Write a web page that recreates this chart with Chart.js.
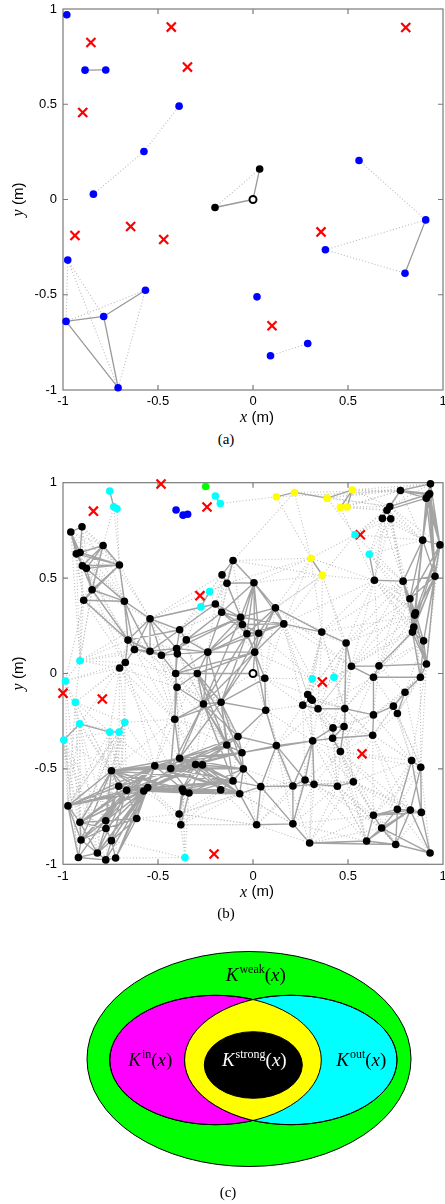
<!DOCTYPE html>
<html><head><meta charset="utf-8">
<script src="https://cdn.jsdelivr.net/npm/chart.js@4.4.1/dist/chart.umd.min.js"></script>
<style>
html,body{margin:0;padding:0;background:#fff;width:445px;height:1204px;overflow:hidden;position:relative}
canvas{position:absolute;left:0}
.lab{position:absolute;font-family:"Liberation Serif",serif;font-size:15px;color:#000;transform:translate(-50%,-50%);white-space:nowrap}
</style></head><body>
<canvas id="ca" width="445" height="430" style="top:0;width:445px;height:430px"></canvas>
<canvas id="cb" width="445" height="440" style="top:470px;width:445px;height:440px"></canvas>
<canvas id="cc" width="445" height="274" style="top:930px;width:445px;height:274px"></canvas>
<div class="lab" style="left:226px;top:439px">(a)</div>
<div class="lab" style="left:226px;top:913px">(b)</div>
<div class="lab" style="left:228px;top:1192px">(c)</div>
<script>
// ---------- Panel (a) data ----------
const aBlue = [[-0.98,0.97],[-0.884,0.679],[-0.775,0.68],[-0.389,0.49],[-0.574,0.252],[-0.84,0.028],[0.558,0.205],
  [0.909,-0.107],[0.381,-0.264],[0.8,-0.387],[-0.975,-0.318],[-0.566,-0.476],[-0.786,-0.614],[-0.984,-0.64],
  [-0.71,-0.988],[0.021,-0.511],[0.092,-0.82],[0.288,-0.756]];
const aBlack = [[0.035,0.16],[-0.2,-0.042]];
const aTarget = [[0,0]];
const aRed = [[-0.853,0.824],[-0.43,0.905],[-0.345,0.695],[-0.896,0.457],[0.804,0.903],[-0.937,-0.189],
  [-0.644,-0.142],[-0.47,-0.21],[0.358,-0.17],[0.1,-0.663]];
const aSolid = "b1-b2 t-k1 t-k0 b7-b9 b13-b12 b12-b11 b12-b14 b13-b14".split(/\s+/);
const aDotted = "b5-b4 b4-b3 k1-k0 b6-b7 b8-b7 b8-b9 b16-b17 b10-b13 b10-b12 b10-b14 b13-b11 b11-b14".split(/\s+/);
const axisTicks = [-1, -0.5, 0, 0.5, 1];

// ---------- Panel (b) data ----------
const bBlack = [
[-0.959,0.742],[-0.900,0.769],[-0.789,0.671],[-0.930,0.627],[-0.910,0.634],[-0.898,0.565],[-0.877,0.551],[-0.703,0.569],[-0.847,0.439],[-0.891,0.384],
[-0.677,0.379],[-0.105,0.592],[-0.163,0.517],[-0.137,0.473],[0.005,0.476],[-0.198,0.364],[-0.165,0.321],[-0.065,0.295],[-0.056,0.257],[-0.032,0.208],
[0.030,0.211],[0.009,0.112],[0.118,0.344],[0.162,0.260],[-0.542,0.287],[-0.386,0.229],[-0.351,0.176],[-0.658,0.175],[-0.624,0.126],[-0.542,0.117],
[-0.482,0.096],[-0.402,0.131],[-0.398,0.103],[-0.238,0.112],[-0.672,0.058],[-0.702,0.029],[-0.407,0.000],[-0.293,0.000],[-0.400,-0.072],[-0.261,-0.160],
[-0.168,-0.151],[-0.412,-0.240],[0.067,-0.193],[0.062,-0.025],[0.362,0.217],[0.490,0.160],[0.518,0.038],[0.663,0.040],[0.913,0.050],[0.634,-0.020],
[0.881,-0.020],[0.800,-0.098],[0.739,-0.171],[0.760,-0.210],[0.634,-0.217],[0.630,-0.324],[0.934,0.994],[0.776,0.959],[0.930,0.942],[0.912,0.919],
[0.923,0.935],[0.720,0.875],[0.705,0.856],[0.681,0.813],[0.725,0.811],[0.893,0.699],[0.984,0.674],[0.639,0.489],[0.790,0.484],[0.958,0.510],
[0.826,0.392],[0.851,0.306],[0.855,0.318],[0.846,0.243],[0.839,0.217],[0.898,0.171],[0.288,-0.110],[0.304,-0.132],[0.312,-0.140],[0.262,-0.166],
[0.342,-0.185],[0.483,-0.184],[0.421,-0.285],[0.479,-0.278],[0.419,-0.339],[0.314,-0.353],[0.460,-0.409],[0.123,-0.378],[-0.079,-0.330],[-0.138,-0.375],
[-0.058,-0.415],[-0.051,-0.500],[-0.105,-0.563],[-0.070,-0.630],[-0.170,-0.610],[0.041,-0.593],[-0.386,-0.444],[-0.433,-0.498],[-0.517,-0.484],[-0.302,-0.477],
[-0.266,-0.479],[-0.372,-0.605],[-0.366,-0.619],[-0.337,-0.626],[-0.745,-0.510],[-0.707,-0.591],[-0.665,-0.612],[-0.575,-0.616],[-0.554,-0.598],[-0.974,-0.694],
[-0.911,-0.780],[-0.905,-0.873],[-0.919,-0.964],[-0.819,-0.941],[-0.775,-0.772],[-0.774,-0.812],[-0.745,-0.876],[-0.775,-0.977],[-0.723,-0.967],[-0.612,-0.760],
[-0.389,-0.736],[-0.380,-0.793],[0.019,-0.793],[0.210,-0.590],[0.210,-0.788],[0.274,-0.558],[0.321,-0.581],[0.444,-0.591],[0.528,-0.568],[0.298,-0.888],
[0.598,-0.878],[0.751,-0.896],[0.932,-0.941],[0.634,-0.743],[0.677,-0.810],[0.760,-0.712],[0.828,-0.716],[0.886,-0.728],[0.835,-0.456],[0.883,-0.491]
];
const bCyan = [[-0.754,0.956],[-0.733,0.874],[-0.716,0.863],[-0.198,0.93],[-0.172,0.891],[-0.228,0.429],[-0.274,0.349],
  [0.537,0.727],[0.612,0.625],[-0.911,0.067],[-0.987,-0.039],[-0.935,-0.151],[-0.912,-0.264],[-0.675,-0.256],
  [-0.754,-0.307],[-0.705,-0.307],[-0.996,-0.349],[0.312,-0.028],[0.426,-0.02],[-0.358,-0.965]];
const bYellow = [[0.123,0.926],[0.218,0.949],[0.39,0.919],[0.46,0.87],[0.495,0.873],[0.523,0.962],[0.305,0.604],[0.365,0.515]];
const bBlue = [[-0.405,0.857],[-0.368,0.83],[-0.344,0.835]];
const bGreen = [[-0.249,0.98]];
const bTarget = [[0,0]];
const bRed = [[-0.484,0.993],[-0.84,0.851],[-0.242,0.873],[0.565,0.727],[-0.279,0.408],[-1.0,-0.103],
  [-0.793,-0.134],[0.365,-0.045],[0.574,-0.421],[-0.205,-0.946]];

const bSolid = `
k0-k1 k0-k3 k0-k4 k0-k5 k1-k4 k2-k3 k2-k4 k2-k5 k2-k6 k2-k7 k3-k7 k4-k7 k5-k7 k6-k7 k3-k5 k5-k8 k6-k8 k7-k8 k7-k9 k7-k10 k8-k9 k9-k10 k8-k10 k6-k10 k2-k8
k10-k24 k10-k27 k10-k28 k10-k29 k8-k27 k9-k27
k24-k25 k24-k27 k24-k28 k24-k29 k24-k30 k24-k31 k25-k26 k25-k31 k25-k29 k25-k27 k26-k31 k26-k32 k26-k33 k27-k28 k27-k29 k27-k30 k28-k29 k28-k30 k29-k30 k29-k31
k30-k31 k30-k32 k31-k32 k31-k33 k32-k33 k27-k34 k28-k34 k34-k35 k30-k36 k31-k36 k32-k36 k32-k37 k33-k37 k33-k36 k36-k37 k36-k38 k37-k38 k33-k39 k33-k40 k37-k39
k37-k40 k38-k39 k38-k41 k36-k41 k39-k40 k39-k41 k40-k41
k33-k16 k33-k17 k33-k19 k33-k21 k26-k16 k25-k15 k24-k15 k26-k17 k31-k17 k33-k18 k33-k20 k37-k21 k39-k19 k40-k19 k40-k20 k39-k17 k36-k21
k11-k12 k11-k13 k11-k14 k12-k13 k13-k14 k14-k17 k14-k18 k14-k19 k14-k20 k14-k21 k14-k22 k14-k23 k15-k16 k16-k17 k16-k18 k17-k18 k17-k19 k18-k19 k18-k20 k19-k20
k19-k21 k20-k21 k17-k22 k18-k23 k20-k23 k22-k23 k21-k23 k17-k23 k19-k23 k20-k22 k21-k43 k23-k44 k44-k45 k45-k46 k21-t k43-t k37-t k16-k19 k15-k17
k22-k44 k14-k16 k13-k17 k22-k21 k22-k19 k18-k21 k17-k21 k16-k20
k21-k40 k40-k42 k42-k43 k40-k88 k39-k88 k39-k89 k40-k89 k88-k89 k88-k90 k89-k90 k90-k91 k89-k91 k91-k92 k92-k93 k92-k94 k93-k94 k91-k95 k93-k95 k88-k87 k87-k42
k87-k95 k87-k85 k90-k87 k95-k122 k95-k123 k122-k124 k124-k123 k43-k40 k42-k88 k21-k39 k21-k42 k40-k91 k40-k92 k39-k91 k39-k92 k37-k89 k37-k90 k90-k85
k96-k99 k96-k100 k97-k99 k98-k99 k98-k100 k99-k100 k96-k97 k97-k98 k99-k101 k100-k101 k101-k102 k102-k103 k100-k103 k103-k94 k100-k94 k100-k92 k99-k91 k100-k91
k99-k90 k100-k89 k96-k89 k96-k88 k100-k88 k98-k104 k97-k104 k96-k104 k104-k105 k104-k106 k105-k106 k106-k107 k107-k108 k108-k98 k107-k98 k106-k98 k108-k97
k107-k101 k108-k101 k108-k103 k106-k103 k105-k103 k104-k109 k105-k109 k106-k109 k104-k110 k109-k110 k109-k111 k109-k112 k110-k111 k110-k114 k110-k115 k111-k115
k111-k112 k112-k113 k113-k117 k113-k116 k116-k117 k116-k118 k117-k118 k114-k115 k115-k116 k114-k119 k115-k119 k116-k119 k119-k106 k119-k107 k119-k108 k105-k114
k106-k114 k114-k104 k118-k119 k120-k121 k101-k120 k102-k120 k103-k121 k41-k96 k41-k97 k93-k103 k92-k103 k91-k93 k98-k92 k97-k93 k96-k94 k105-k115 k106-k116
k107-k116 k104-k111 k98-k101 k97-k103 k111-k113 k112-k117 k110-k113 k105-k113 k106-k117 k107-k118 k92-k95
k104-k99 k104-k100 k105-k99 k106-k99 k107-k99 k108-k99 k107-k100 k108-k100 k105-k101 k106-k101 k104-k101 k104-k103 k105-k98 k104-k107 k104-k108 k109-k107
k109-k108 k110-k106 k110-k107 k110-k108 k111-k106 k111-k107 k111-k108 k112-k106 k113-k107 k113-k108 k114-k107 k114-k108 k115-k107 k115-k108 k116-k108
k117-k108 k118-k107 k118-k108 k113-k106 k109-k98 k110-k98 k111-k98 k114-k98 k104-k92 k98-k93 k98-k91 k97-k92 k97-k91 k96-k93 k96-k91 k107-k92 k108-k92
k107-k93 k108-k93 k106-k92 k105-k93 k99-k93 k99-k94 k99-k92 k101-k92 k101-k93 k101-k94 k103-k92 k103-k91 k100-k93 k102-k94 k102-k93 k97-k89 k98-k89 k97-k88
k96-k90 k97-k90 k98-k90 k99-k89 k39-k96 k39-k97 k40-k96
k87-k123 k87-k125 k85-k84 k85-k126 k85-k125 k85-k123 k84-k82 k82-k83 k83-k81 k80-k81 k80-k79 k76-k77 k77-k78 k78-k80 k79-k77 k81-k45 k46-k47 k47-k49 k46-k49
k49-k50 k47-k48 k48-k50 k50-k51 k51-k52 k52-k53 k49-k54 k54-k55 k54-k52 k84-k86 k83-k86 k84-k83 k85-k82 k81-k54 k51-k53 k84-k55
k126-k127 k127-k128 k125-k126 k123-k125 k123-k126 k124-k129 k129-k130 k130-k131 k130-k134 k130-k133 k131-k134 k131-k135 k131-k136 k131-k132 k132-k137 k132-k136
k132-k134 k133-k134 k133-k135 k133-k136 k133-k137 k134-k135 k134-k136 k135-k136 k136-k137 k135-k138 k136-k139 k137-k139 k137-k138 k138-k139 k122-k124 k124-k125
k129-k131 k130-k136 k95-k124 k122-k93
k56-k57 k56-k58 k56-k59 k56-k60 k57-k58 k57-k59 k57-k60 k58-k59 k59-k60 k61-k57 k62-k57 k61-k58 k62-k59 k61-k62 k63-k64 k62-k63 k62-k64 k56-k65 k56-k66 k58-k65
k59-k65 k60-k66 k58-k66 k65-k66 k65-k68 k65-k69 k66-k69 k68-k69 k67-k68 k68-k70 k69-k70 k68-k71 k69-k71 k69-k72 k70-k71 k70-k72 k70-k73 k71-k72 k71-k73 k72-k74
k73-k74 k73-k75 k74-k75 k72-k75 k75-k48 k74-k48 k74-k47 k74-k50 k75-k50 k66-k70 k66-k75 k69-k75 k65-k70 k65-k73 k71-k74 k73-k48 k70-k74 k71-k48 k56-k69 k59-k66
k68-k73 k60-k65 k59-k69 k58-k69 k60-k69 k65-k72 k65-k74 k66-k72 k66-k73 k69-k73 k69-k74 k66-k71 k68-k72 k65-k71 k69-k48
c0-c1 c1-c2 c3-c4 c5-c6 c12-c14 c16-c12 c14-c15 c15-c13 y0-y1 y1-y2 y2-y5 y3-y5 y4-y5 y6-y7 c8-k67
`.trim().split(/\s+/);

const bDotted = `
k3-c9 k5-c9 k9-c9 k8-c9 k9-c10 k8-k28 k9-k28 k9-k34 k8-k34 k5-k10 k3-k9 k0-k8 k1-k7 k1-k2 k1-k5 k0-k2 c2-k7 c1-k2 c1-k7 c4-y0 y2-k57 y5-k57 y4-k61 y3-k62
y1-k57 y5-k56 y0-k57 y1-y6 y0-y6 y6-k22 y7-k22 y7-k23 y7-k67 y6-c7 y7-c7 c7-k63 c8-k64 c8-k68 c7-k65 y2-c7 y3-k67 c7-k61 c5-k13 c6-k25 c6-k26 c5-k15 c6-k24 c5-k12
k63-k67 k64-k68 k61-k65 k62-k67 k63-k68 k57-k65 k61-k66 k64-k70 k67-k73 k67-k71 k68-k74 k70-k48 k71-k50 k73-k50 k67-k45 k67-k44 k68-k45 k67-k46 k68-k47 k70-k47
k71-k46 k72-k47 k44-k76 k44-k79 k23-k45 k46-k76 k46-k80 k45-k76 k47-k81 k49-k81 k49-k80 k54-k81 k55-k83 k55-k81 k55-k86 k53-k55 k52-k54 k50-k53 k51-k139
k53-k138 k55-k138 k54-k138 k53-k139 k50-k139 k48-k139 k48-k138 c17-k43 c17-k76 c17-k44 c18-k46 c18-k45 c18-k81 c17-k23 c17-k79 k86-k128 k86-k127 k128-k133
k128-k135 k86-k133 k127-k130 k126-k130 k85-k124 k129-k133 k124-k130 k126-k129 k127-k133 k128-k134 k128-k138 k86-k138 k55-k135 k86-k139 k122-k121 k121-k93 k120-k94
c19-k121 c19-k120 c19-k116 c19-k118 k121-k122 k120-k122 k129-k122 k95-k129 k93-k124 c12-k109 c16-k109 c14-k104 c15-k104 c13-k98 c13-k41 c15-k105 c16-k110 c11-k109
c16-k111 c16-k112 c12-k114 c12-k113 c14-k115 c15-k114 c13-k105 c13-k104 c10-k109 c11-k110 c9-k34 c9-k35 c10-k35 c11-k35 k35-k41 k35-k38 k28-k38 k27-k36 k34-k36
k34-k41 k41-k104 k41-k98 k38-k98 k38-k96 c13-k35 k11-k15 k11-k16 k12-k15 k12-k16 k13-k16 k11-k22 k16-k25 k15-k24 k15-k25 k13-k24 k12-k24 k20-k43 k19-k43
k42-k90 k43-k87 k42-k85 k42-k79 k43-k79 k43-k76 k87-k79 k87-k80 k87-k84 k42-k123 k37-k88 k36-k89 k38-k89 k41-k89 k39-k99 k40-k99 k40-k90 k89-k99 k88-k92
k91-k99 c9-k27 k2-k10 k0-c9 c10-c9 c12-k104 c11-c12 k119-k120 k119-k121 k108-k120 k113-k118 k91-k123 k23-k46 k22-k45 k14-y6 k11-y6 k11-y1 k44-c18 c17-k77 k44-k80
k45-k81 t-k39 t-k42 t-k20 k44-k81 k45-k80 c8-k65 k57-k63 k56-k61 k64-k67 k62-k68 k69-k48 k66-k48 k65-k71 k24-c9 k27-k35 c10-k34 c11-k104 c12-k105 c16-k114
k98-c14 k104-c11 k112-c16 k113-c14 k117-c15 k118-c13 k120-k107 k121-k108 k93-k120 k94-k121 k122-k120 c19-k103 c19-k102 k129-k95 k124-k93 k131-k86 k132-k139
k137-k128 k130-k127 k126-k133 k85-k129 k87-k124 k79-k85 k76-k84 k78-k82 k77-k85 k80-k82 k81-k84 k46-k81 k47-k54 k49-k52 k47-k51 k48-k51 k50-k52 k75-k51 k74-k49
k0-k10 k1-k10 k3-k10 k4-k10 k0-k7 k3-k8 k4-k9 k1-k8 k2-k9 k2-k24 k7-k24 k7-k27 k8-k24 k9-k29 k6-k27 k5-k27 k0-k9
c9-k28 c9-k29 c9-k8 c10-k34 c11-k34 c12-k35 c13-k34 c14-k35 c15-k35 c10-c11 c10-c12 c11-c14 c12-c15 c16-c14 c9-c11 c11-c13 c16-k104 c14-k109 c15-k110 c13-k110
c12-k110 c16-k113 c12-k111 c14-k111 c15-k115 c13-k114 c13-k106 c14-k106 c14-k114 c15-k106 c11-k111 c10-k110 c16-k117 c14-k105 c15-k109 c13-k109
k35-k96 k35-k97 k34-k98 k28-k41 k29-k41 k30-k41 k29-k38 k30-k38 k24-k36 k25-k37 k26-k37 k26-k39 k31-k39 k32-k39 k25-k33 k24-k26 k27-k31 k36-k40 k38-k40
k41-k88 k41-k99 k41-k100 k38-k99 k38-k97 k36-k96 k37-k41 k36-k39 k39-k90
k22-k43 k23-k43 k11-k17 k12-k17 k13-k18 k13-k15 k16-k21 k15-k19 k15-k33 k16-k31 k16-k26 k12-k25 k22-k76 k23-k76 k23-c17 k20-c17 k21-c17
k76-k81 k77-k81 k78-k81 k79-k82 k76-k85 k78-k83 k80-k83 k80-k84 k80-k85 k81-k86 k82-k86 k85-k86 k76-k45 k77-k46 k80-k46 k81-k55 k82-k55 k83-k54 k86-k54 k82-k54
k123-k127 k123-k128 k125-k127 k125-k128 k126-k128 k85-k127 k85-k128 k84-k127 k84-k128 k86-k126 k86-k125 k127-k129 k128-k129 k128-k130 k127-k134 k126-k134
k129-k134 k127-k131 k128-k131 k86-k135 k86-k136 k55-k136 k55-k133 k128-k136 k128-k137 k138-k133 k139-k133 k138-k134 k139-k135 k131-k137 k132-k135 k124-k133
k124-k126 k124-k127 k122-k123 k122-k125 k95-k125 k95-k126 k93-k123 k91-k122 k92-k122 k94-k122 k123-k85
k120-k93 k121-k101 k120-k99 c19-k101
y2-k56 y3-k57 y4-k57 y5-k58 y5-k61 y4-k62 y2-k61 y1-k61 c7-k62 c7-k64 c8-k63 c8-k70 c8-k71 c7-k68 k63-k65 k64-k65 k61-k68 k62-k65 k67-k70 k67-k72 k67-k74
k70-k75 k67-k47 k68-k46 k70-k46 k71-k45 y7-k44 y7-k45 y6-k23
k73-k49 k75-k47 k48-k52 k48-k53 k50-k54 k51-k54 k51-k55 k52-k55 k52-k138 k52-k139 k55-k139
k87-k129 k87-k122 k85-k130 k84-k130 k82-k127 k83-k128 k81-k128 k86-k130 k80-k127 k79-k125 k77-k126 k55-k128 k49-k86 k46-k82 k46-k83 k45-k82 k44-k77
k23-k79 k22-k46 k22-y7 k14-y7 k11-y7 k13-y6 y6-k67 y6-k44 y7-k46 k67-k23 k68-k44 k70-k45 k71-k44 k73-k46 k74-k46 k75-k49
`.trim().split(/\s+/);

// ---------- Panel (c) data ----------
const vennNames  = ['weak','in','out','strong'];
const vennColors = ['#00ff00','#ff00ff','#00ffff','#000000'];
const vennCX = [0, -33.5, 41.8, 4.3];
const vennCY = [0, -1, -1, -6];
const vennRX = [162, 105.8, 106.2, 49];
const vennRY = [107.5, 64.7, 64.7, 33.3];
const vennLabelX = [6.8, -98.7, 112.3, 5.3];
const vennLabelY = [84, -1, -1, -1];
const vennLabelColor = ['#000','#000','#000','#fff'];

// ---------- helpers ----------
function nodeMap(groups){
  const m = {};
  for (const [pre, arr] of Object.entries(groups)) arr.forEach((p,i)=>{ m[pre==='t'?'t':pre+i] = p; });
  return m;
}
function edgeData(list, nodes){
  const out = [];
  list.forEach(e=>{
    const [a,b] = e.split('-'); const p = nodes[a], q = nodes[b];
    if(!p||!q) return;
    out.push({x:p[0],y:p[1]},{x:q[0],y:q[1]},{x:q[0],y:null});
  });
  return out;
}
const toXY = arr => arr.map(p=>({x:p[0],y:p[1]}));
function pointSet(arr, color, r, style, extra){
  return Object.assign({type:'scatter', data:toXY(arr), showLine:false, pointStyle:style||'circle',
    pointRadius:r, pointBackgroundColor:color, pointBorderColor:color, pointBorderWidth:0, order:0, clip:12}, extra||{});
}
function lineSet(data, color, w, dash, order){
  return {type:'scatter', data, showLine:true, pointRadius:0, borderColor:color, borderWidth:w,
    borderDash:dash||[], spanGaps:false, order, clip:0, fill:false};
}

const framePlugin = {
  id:'frame',
  beforeDatasetsDraw(chart){
    const {ctx, chartArea:a, scales:{x,y}} = chart;
    ctx.save();
    ctx.strokeStyle = '#7a7a7a'; ctx.lineWidth = 1.2;
    ctx.strokeRect(a.left, a.top, a.right-a.left, a.bottom-a.top);
    const L = 5;
    ctx.beginPath();
    x.ticks.forEach(t=>{ if(t.value<=-1||t.value>=1) return; const px = x.getPixelForValue(t.value);
      ctx.moveTo(px,a.bottom); ctx.lineTo(px,a.bottom-L); ctx.moveTo(px,a.top); ctx.lineTo(px,a.top+L); });
    y.ticks.forEach(t=>{ if(t.value<=-1||t.value>=1) return; const py = y.getPixelForValue(t.value);
      ctx.moveTo(a.left,py); ctx.lineTo(a.left+L,py); ctx.moveTo(a.right,py); ctx.lineTo(a.right-L,py); });
    ctx.stroke();
    ctx.restore();
  },
  afterDraw(chart){
    const {ctx, chartArea:a} = chart;
    function title(letter, cx, cy, rot){
      ctx.save(); ctx.translate(cx,cy); if(rot) ctx.rotate(-Math.PI/2);
      const f1 = 'italic 16px "Liberation Serif"', f2 = '15px "Liberation Sans"';
      ctx.font = f1; const w1 = ctx.measureText(letter).width;
      ctx.font = f2; const w2 = ctx.measureText(' (m)').width;
      let x0 = -(w1+w2)/2;
      ctx.textBaseline = 'middle'; ctx.fillStyle = '#000';
      ctx.font = f1; ctx.fillText(letter, x0, 0);
      ctx.font = f2; ctx.fillText(' (m)', x0+w1, 0);
      ctx.restore();
    }
    title('x', (a.left+a.right)/2+4, a.bottom+28, false);
    title('y', 19, (a.top+a.bottom)/2, true);
  }
};

function netOptions(padTop, xAxisH){
  const tickFont = {family:'"Liberation Sans", Arial, sans-serif', size:13};
  const grid = {display:false, drawTicks:false, tickLength:0};
  return {
    responsive:false, animation:false, devicePixelRatio:1, events:[],
    layout:{autoPadding:false, padding:{top:padTop,right:2,left:0,bottom:0}},
    plugins:{legend:{display:false}, tooltip:{enabled:false}},
    scales:{
      x:{type:'linear', min:-1, max:1, grid, border:{display:false},
        afterBuildTicks:s=>{ s.ticks = axisTicks.map(v=>({value:v})); },
        ticks:{padding:4, color:'#000', font:tickFont, maxRotation:0, autoSkip:false, callback:v=>String(v)},
        afterFit:s=>{ s.height = xAxisH; s.paddingLeft = 0; s.paddingRight = 0; }},
      y:{type:'linear', min:-1, max:1, grid, border:{display:false},
        afterBuildTicks:s=>{ s.ticks = axisTicks.map(v=>({value:v})); },
        ticks:{padding:6, color:'#000', font:tickFont, autoSkip:false, callback:v=>String(v)},
        afterFit:s=>{ s.width = 63; s.paddingTop = 0; s.paddingBottom = 0; }}
    }
  };
}

// ---------- Chart (a) ----------
const aNodes = nodeMap({b:aBlue, k:aBlack, t:aTarget});
new Chart(document.getElementById('ca'), {
  type:'scatter',
  data:{datasets:[
    lineSet(edgeData(aDotted, aNodes), '#b9b9b9', 1.1, [1,2.2], 3),
    lineSet(edgeData(aSolid, aNodes), '#999999', 1.3, [], 2),
    pointSet(aBlue, '#0000ff', 3.8),
    pointSet(aBlack, '#000000', 3.8),
    pointSet(aTarget, '#ffffff', 3.5, 'circle', {pointBorderColor:'#000', pointBorderWidth:2}),
    pointSet(aRed, '#ff0000', 6.4, 'crossRot', {pointBorderWidth:2.2})
  ]},
  options:netOptions(9, 40),
  plugins:[framePlugin]
});

// ---------- Chart (b) ----------
const bNodes = nodeMap({k:bBlack, c:bCyan, y:bYellow, t:bTarget});
new Chart(document.getElementById('cb'), {
  type:'scatter',
  data:{datasets:[
    lineSet(edgeData(bDotted, bNodes), '#bdbdbd', 1.1, [1,2.2], 3),
    lineSet(edgeData(bSolid, bNodes), '#a3a3a3', 1.4, [], 2),
    pointSet(bBlack, '#000000', 3.8),
    pointSet(bCyan, '#00ffff', 3.8),
    pointSet(bYellow, '#ffff00', 3.8),
    pointSet(bBlue, '#0000ff', 3.8),
    pointSet(bGreen, '#00ff00', 3.8),
    pointSet(bTarget, '#ffffff', 3.5, 'circle', {pointBorderColor:'#000', pointBorderWidth:2}),
    pointSet(bRed, '#ff0000', 6.4, 'crossRot', {pointBorderWidth:2.2})
  ]},
  options:netOptions(12.7, 45.7),
  plugins:[framePlugin]
});

// ---------- Chart (c) ----------
const vennPlugin = {
  id:'venn',
  afterDatasetsDraw(chart){
    const {ctx, scales:{x,y}} = chart;
    const X = v=>x.getPixelForValue(v), Y = v=>y.getPixelForValue(v);
    function path(i){
      ctx.beginPath();
      ctx.ellipse(X(vennCX[i]), Y(vennCY[i]), Math.abs(X(vennCX[i]+vennRX[i])-X(vennCX[i])),
        Math.abs(Y(vennCY[i]+vennRY[i])-Y(vennCY[i])), 0, 0, Math.PI*2);
    }
    ctx.save();
    ctx.strokeStyle = '#000'; ctx.lineWidth = 1;
    [0,1,2].forEach(i=>{ path(i); ctx.fillStyle = vennColors[i]; ctx.fill(); ctx.stroke(); });
    ctx.save(); path(1); ctx.clip(); path(2); ctx.fillStyle = '#ffff00'; ctx.fill(); ctx.restore();
    path(1); ctx.stroke(); path(2); ctx.stroke();
    path(3); ctx.fillStyle = vennColors[3]; ctx.fill(); ctx.stroke();
    vennNames.forEach((name,i)=>{
      const parts = [
        {t:'K', f:'italic 19px "Liberation Serif"', dy:0},
        {t:name, f:'12px "Liberation Serif"', dy:-8},
        {t:'(', f:'19px "Liberation Serif"', dy:0},
        {t:'x', f:'italic 19px "Liberation Serif"', dy:0},
        {t:')', f:'19px "Liberation Serif"', dy:0}
      ];
      let w = 0;
      parts.forEach(p=>{ ctx.font = p.f; p.w = ctx.measureText(p.t).width + (p.t==='K'?1:0); w += p.w; });
      let cx = X(vennLabelX[i]) - w/2; const cy = Y(vennLabelY[i]) + 6;
      ctx.fillStyle = vennLabelColor[i]; ctx.textBaseline = 'alphabetic';
      parts.forEach(p=>{ ctx.font = p.f; ctx.fillText(p.t, cx, cy + p.dy); cx += p.w; });
    });
    ctx.restore();
  }
};
new Chart(document.getElementById('cc'), {
  type:'scatter',
  data:{datasets:[{data:vennCX.map((v,i)=>({x:v, y:vennCY[i]})), pointRadius:0, showLine:false}]},
  options:{responsive:false, animation:false, devicePixelRatio:1, events:[],
    layout:{autoPadding:false, padding:0},
    plugins:{legend:{display:false}, tooltip:{enabled:false}},
    scales:{x:{display:false, min:-249, max:196}, y:{display:false, min:-145, max:129}}},
  plugins:[vennPlugin]
});
</script>
</body></html>
